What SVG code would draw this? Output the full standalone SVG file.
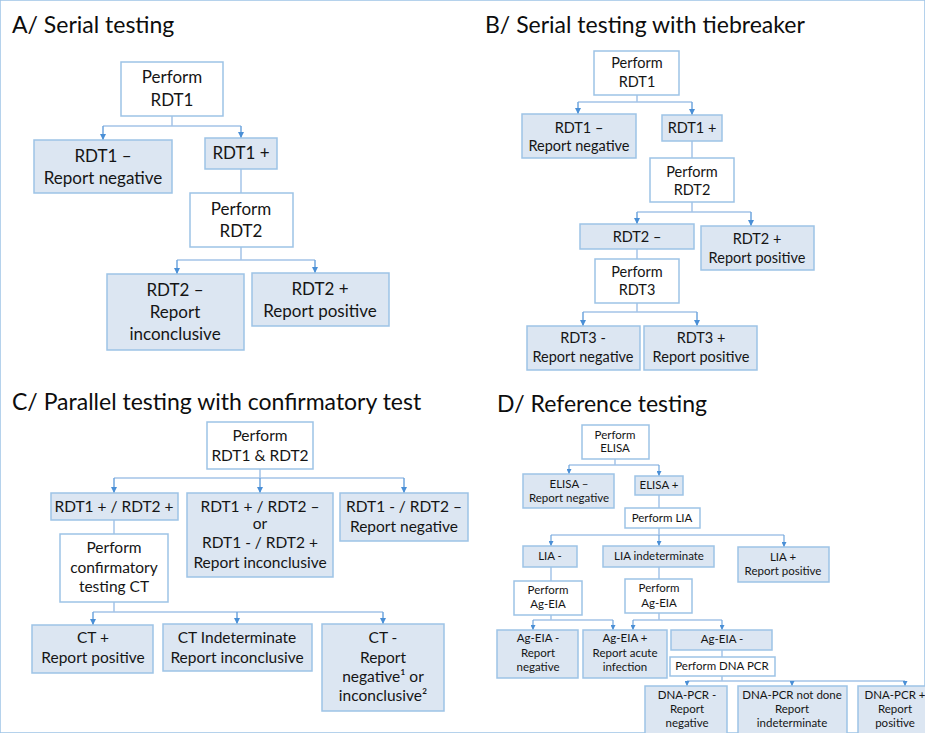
<svg xmlns="http://www.w3.org/2000/svg" width="925" height="733" viewBox="0 0 925 733">
<defs>
<marker id="ar" viewBox="0 0 6 6" markerWidth="6" markerHeight="6" refX="6" refY="3" orient="auto" markerUnits="userSpaceOnUse"><path d="M0,0 L6,3 L0,6 z" fill="#4a8fd6"/></marker>
<marker id="as" viewBox="0 0 6 6" markerWidth="5" markerHeight="5" refX="6" refY="3" orient="auto" markerUnits="userSpaceOnUse"><path d="M0,0 L6,3 L0,6 z" fill="#4a8fd6"/></marker>
</defs>
<style>
rect{stroke:#9dc3e6;stroke-width:1.5}
.f{fill:#dce6f2}
.w{fill:#ffffff}
text{font-family:Lato,"Open Sans",sans-serif;fill:#151515;text-anchor:middle}
.t{text-anchor:start;font-size:23px;fill:#0d0d0d}
.a{font-size:17px}
.b{font-size:14.5px}
.c{font-size:15.5px}
.d{font-size:11.5px}
.ln{fill:none;stroke:#a4c4e8;stroke-width:1.5}
.dr{fill:none;stroke:#6fa6de;stroke-width:1.5;marker-end:url(#ar)}
.ds{fill:none;stroke:#6fa6de;stroke-width:1.2;marker-end:url(#as)}
</style>
<rect x="0" y="0" width="925" height="733" fill="#ffffff" stroke="none"/>

<g id="titles">
<text class="t" x="12" y="33">A/ Serial testing</text>
<text class="t" x="485" y="33">B/ Serial testing with tiebreaker</text>
<text class="t" x="12" y="410">C/ Parallel testing with confirmatory test</text>
<text class="t" x="497" y="412">D/ Reference testing</text>
</g>

<g id="connectors">
<!-- A -->
<path class="ln" d="M172,116 V126 M103,126 H241"/>
<path class="dr" d="M103,126 V140"/>
<path class="dr" d="M241,126 V138"/>
<path class="ln" d="M241,169 V193"/>
<path class="ln" d="M241,247 V260 M177,260 H315"/>
<path class="dr" d="M177,260 V274"/>
<path class="dr" d="M315,260 V273"/>
<!-- B -->
<path class="ln" d="M637,95 V102 M578,102 H692"/>
<path class="dr" d="M578,102 V114"/>
<path class="dr" d="M692,102 V115"/>
<path class="ln" d="M692,141 V158"/>
<path class="ln" d="M692,202 V212 M637,212 H751"/>
<path class="dr" d="M637,212 V224"/>
<path class="dr" d="M751,212 V226"/>
<path class="ln" d="M637,249 V259"/>
<path class="ln" d="M637,303 V312 M583,312 H697"/>
<path class="dr" d="M583,312 V326"/>
<path class="dr" d="M697,312 V326"/>
<!-- C -->
<path class="ln" d="M260,469 V478 M114,478 H404"/>
<path class="dr" d="M114,478 V493"/>
<path class="dr" d="M260,478 V493"/>
<path class="dr" d="M404,478 V493"/>
<path class="ln" d="M114,520 V534"/>
<path class="ln" d="M114,602 V612 M93,612 H383"/>
<path class="dr" d="M93,612 V625"/>
<path class="dr" d="M237,612 V624"/>
<path class="dr" d="M383,612 V624"/>
<!-- D -->
<path class="ln" d="M615,459 V465 M569,465 H659"/>
<path class="ds" d="M569,465 V474"/>
<path class="ds" d="M659,465 V476"/>
<path class="ln" d="M659,495 V508"/>
<path class="ln" d="M659,528 V535 M551,535 H784"/>
<path class="ds" d="M551,535 V546"/>
<path class="ds" d="M659,535 V546"/>
<path class="ds" d="M784,535 V547"/>
<path class="ln" d="M551,567 V581"/>
<path class="ln" d="M659,567 V579"/>
<path class="ln" d="M551,615 V620 M533,620 H613"/>
<path class="ds" d="M533,620 V630"/>
<path class="ds" d="M613,620 V630"/>
<path class="ln" d="M659,613 V620 M633,620 H722"/>
<path class="ds" d="M633,620 V630"/>
<path class="ds" d="M722,620 V630"/>
<path class="ln" d="M722,650 V657"/>
<path class="ln" d="M722,676 V681 M687,681 H905"/>
<path class="ds" d="M687,681 V686"/>
<path class="ds" d="M792,681 V686"/>
<path class="ds" d="M905,681 V686"/>
</g>

<!-- Panel A -->
<g id="a-perform-rdt1"><rect class="w" x="121" y="62" width="102" height="54"/><text class="a" x="172" y="83">Perform</text><text class="a" x="172" y="106">RDT1</text></g>
<g id="a-rdt1-neg"><rect class="f" x="34" y="140" width="138" height="53"/><text class="a" x="103" y="162">RDT1 –</text><text class="a" x="103" y="184">Report negative</text></g>
<g id="a-rdt1-pos"><rect class="f" x="205" y="138" width="72" height="31"/><text class="a" x="241" y="159">RDT1 +</text></g>
<g id="a-perform-rdt2"><rect class="w" x="190" y="193" width="103" height="54"/><text class="a" x="241" y="215">Perform</text><text class="a" x="241" y="237">RDT2</text></g>
<g id="a-rdt2-neg"><rect class="f" x="107" y="274" width="137" height="76"/><text class="a" x="175" y="296">RDT2 –</text><text class="a" x="175" y="318">Report</text><text class="a" x="175" y="340">inconclusive</text></g>
<g id="a-rdt2-pos"><rect class="f" x="252" y="273" width="137" height="53"/><text class="a" x="320" y="295">RDT2 +</text><text class="a" x="320" y="317">Report positive</text></g>

<!-- Panel B -->
<g id="b-perform-rdt1"><rect class="w" x="594" y="51" width="85" height="44"/><text class="b" x="637" y="68">Perform</text><text class="b" x="637" y="87">RDT1</text></g>
<g id="b-rdt1-neg"><rect class="f" x="522" y="114" width="114" height="44"/><text class="b" x="579" y="133">RDT1 –</text><text class="b" x="579" y="151">Report negative</text></g>
<g id="b-rdt1-pos"><rect class="f" x="662" y="115" width="60" height="26"/><text class="b" x="692" y="133">RDT1 +</text></g>
<g id="b-perform-rdt2"><rect class="w" x="650" y="158" width="84" height="44"/><text class="b" x="692" y="177">Perform</text><text class="b" x="692" y="195">RDT2</text></g>
<g id="b-rdt2-neg"><rect class="f" x="580" y="224" width="114" height="25"/><text class="b" x="637" y="242">RDT2 –</text></g>
<g id="b-rdt2-pos"><rect class="f" x="701" y="226" width="113" height="44"/><text class="b" x="757" y="244">RDT2 +</text><text class="b" x="757" y="263">Report positive</text></g>
<g id="b-perform-rdt3"><rect class="w" x="595" y="259" width="84" height="44"/><text class="b" x="637" y="277">Perform</text><text class="b" x="637" y="295">RDT3</text></g>
<g id="b-rdt3-neg"><rect class="f" x="527" y="326" width="113" height="44"/><text class="b" x="583" y="343">RDT3 -</text><text class="b" x="583" y="362">Report negative</text></g>
<g id="b-rdt3-pos"><rect class="f" x="644" y="326" width="113" height="44"/><text class="b" x="701" y="343">RDT3 +</text><text class="b" x="701" y="362">Report positive</text></g>

<!-- Panel C -->
<g id="c-perform"><rect class="w" x="207" y="422" width="106" height="47"/><text class="c" x="260" y="441">Perform</text><text class="c" x="260" y="461">RDT1 &amp; RDT2</text></g>
<g id="c-pp"><rect class="f" x="51" y="493" width="127" height="27"/><text class="c" x="114" y="512">RDT1 + / RDT2 +</text></g>
<g id="c-mixed"><rect class="f" x="187" y="493" width="146" height="84"/><text class="c" x="260" y="512">RDT1 + / RDT2 –</text><text class="c" x="260" y="529">or</text><text class="c" x="260" y="548">RDT1 - / RDT2 +</text><text class="c" x="260" y="568">Report inconclusive</text></g>
<g id="c-nn"><rect class="f" x="340" y="493" width="128" height="48"/><text class="c" x="404" y="512">RDT1 - / RDT2 –</text><text class="c" x="404" y="532">Report negative</text></g>
<g id="c-ct"><rect class="w" x="60" y="534" width="108" height="68"/><text class="c" x="114" y="553">Perform</text><text class="c" x="114" y="573">confirmatory</text><text class="c" x="114" y="592">testing CT</text></g>
<g id="c-ct-pos"><rect class="f" x="32" y="625" width="121" height="48"/><text class="c" x="93" y="643">CT +</text><text class="c" x="93" y="663">Report positive</text></g>
<g id="c-ct-ind"><rect class="f" x="163" y="624" width="149" height="47"/><text class="c" x="237" y="643">CT Indeterminate</text><text class="c" x="237" y="663">Report inconclusive</text></g>
<g id="c-ct-neg"><rect class="f" x="322" y="624" width="122" height="87"/><text class="c" x="383" y="643">CT -</text><text class="c" x="383" y="663">Report</text><text class="c" x="383" y="682">negative¹ or</text><text class="c" x="383" y="701">inconclusive²</text></g>

<!-- Panel D -->
<g id="d-elisa"><rect class="w" x="582" y="425" width="67" height="34"/><text class="d" x="615" y="439">Perform</text><text class="d" x="615" y="452">ELISA</text></g>
<g id="d-elisa-neg"><rect class="f" x="523" y="474" width="91" height="34"/><text class="d" x="569" y="488">ELISA –</text><text class="d" x="569" y="502">Report negative</text></g>
<g id="d-elisa-pos"><rect class="f" x="635" y="476" width="48" height="19"/><text class="d" x="659" y="489">ELISA +</text></g>
<g id="d-lia"><rect class="w" x="625" y="508" width="75" height="20"/><text class="d" x="662" y="522">Perform  LIA</text></g>
<g id="d-lia-neg"><rect class="f" x="523" y="546" width="54" height="21"/><text class="d" x="550" y="560">LIA -</text></g>
<g id="d-lia-ind"><rect class="f" x="603" y="546" width="111" height="21"/><text class="d" x="659" y="560">LIA indeterminate</text></g>
<g id="d-lia-pos"><rect class="f" x="738" y="547" width="91" height="35"/><text class="d" x="783" y="561">LIA +</text><text class="d" x="783" y="575">Report positive</text></g>
<g id="d-ageia-l"><rect class="w" x="514" y="581" width="68" height="34"/><text class="d" x="548" y="594">Perform</text><text class="d" x="548" y="608">Ag-EIA</text></g>
<g id="d-ageia-m"><rect class="w" x="625" y="579" width="67" height="34"/><text class="d" x="659" y="592">Perform</text><text class="d" x="659" y="607">Ag-EIA</text></g>
<g id="d-ageia-neg"><rect class="f" x="497" y="630" width="81" height="48"/><text class="d" x="538" y="642">Ag-EIA -</text><text class="d" x="538" y="657">Report</text><text class="d" x="538" y="671">negative</text></g>
<g id="d-ageia-pos"><rect class="f" x="583" y="630" width="84" height="48"/><text class="d" x="625" y="642">Ag-EIA +</text><text class="d" x="625" y="657">Report acute</text><text class="d" x="625" y="671">infection</text></g>
<g id="d-ageia-neg2"><rect class="f" x="671" y="630" width="101" height="20"/><text class="d" x="722" y="643">Ag-EIA -</text></g>
<g id="d-pcr"><rect class="w" x="670" y="657" width="105" height="19"/><text class="d" x="722" y="670">Perform DNA PCR</text></g>
<g id="d-pcr-neg"><rect class="f" x="645" y="686" width="82" height="52"/><text class="d" x="687" y="699">DNA-PCR -</text><text class="d" x="687" y="713">Report</text><text class="d" x="687" y="727">negative</text></g>
<g id="d-pcr-nd"><rect class="f" x="738" y="686" width="109" height="52"/><text class="d" x="792" y="699">DNA-PCR not done</text><text class="d" x="792" y="713">Report</text><text class="d" x="792" y="727">indeterminate</text></g>
<g id="d-pcr-pos"><rect class="f" x="858" y="686" width="75" height="52"/><text class="d" x="895" y="699">DNA-PCR +</text><text class="d" x="895" y="713">Report</text><text class="d" x="895" y="727">positive</text></g>
</svg>
